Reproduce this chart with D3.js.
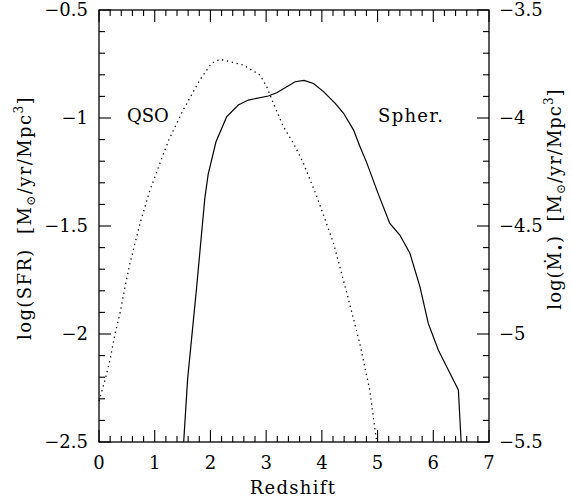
<!DOCTYPE html>
<html>
<head>
<meta charset="utf-8">
<script src="https://cdn.jsdelivr.net/npm/d3@7"></script>
<style>
  html, body { margin: 0; padding: 0; background: #fff; }
  svg { display: block; }
</style>
</head>
<body>
<svg id="chart" width="572" height="499"></svg>
<script>
// Spheroid star-formation history: redshift vs log(SFR)
const spherZ = [1.52, 1.59, 1.75, 1.90, 1.96, 2.10, 2.29, 2.50, 2.68, 3.04, 3.19, 3.52, 3.68, 3.85, 4.03, 4.24, 4.39, 4.57, 4.68, 4.81, 5.01, 5.22, 5.40, 5.58, 5.76, 5.91, 6.09, 6.27, 6.45, 6.50];
const spherLogSFR = [-2.5, -2.21, -1.79, -1.37, -1.26, -1.11, -0.995, -0.94, -0.917, -0.898, -0.883, -0.832, -0.826, -0.840, -0.878, -0.932, -0.978, -1.056, -1.13, -1.21, -1.35, -1.488, -1.542, -1.626, -1.781, -1.951, -2.074, -2.167, -2.259, -2.5];

// QSO accretion history: redshift vs log(SFR)-scaled density
const qsoZ = [0.0, 0.108, 0.197, 0.287, 0.377, 0.467, 0.556, 0.646, 0.736, 0.826, 0.915, 1.005, 1.125, 1.256, 1.453, 1.51, 1.81, 2.02, 2.17, 2.35, 2.59, 2.89, 3.01, 3.13, 3.31, 3.49, 3.67, 3.91, 4.21, 4.45, 4.68, 4.86, 4.97, 4.99];
const qsoLogSFR = [-2.31, -2.213, -2.12, -2.0, -1.904, -1.781, -1.673, -1.58, -1.488, -1.41, -1.333, -1.272, -1.187, -1.10, -0.994, -0.963, -0.824, -0.747, -0.728, -0.739, -0.755, -0.801, -0.855, -0.932, -1.04, -1.117, -1.21, -1.364, -1.58, -1.812, -2.043, -2.259, -2.475, -2.5];

// Axis ticks
const xMajorTicks = [0, 1, 2, 3, 4, 5, 6, 7];
const xMinorTicks = d3.range(0, 7.0001, 0.2);
const yLeftMajorTicks = [-2.5, -2, -1.5, -1, -0.5];
const yRightMajorTicks = [-5.5, -5, -4.5, -4, -3.5];
const yMinorTicks = d3.range(-2.5, -0.4999, 0.1);

const seriesLabels = ["QSO", "Spher."];

const FONT = "DejaVu Serif";
const svg = d3.select("#chart");
const L = 99, R = 489, T = 10, B = 442;

const x = d3.scaleLinear().domain([0, 7]).range([L, R]);
const yL = d3.scaleLinear().domain([-2.5, -0.5]).range([B, T]);
const yR = d3.scaleLinear().domain([-5.5, -3.5]).range([B, T]);

const fmt = v => d3.format("")(v).replace("-", "\u2212");

const g = svg.append("g").attr("font-family", FONT).attr("fill", "#000");

// frame
g.append("rect").attr("x", L).attr("y", T).attr("width", R - L).attr("height", B - T)
  .attr("fill", "none").attr("stroke", "#000").attr("stroke-width", 1.3);

const majLen = 12, minLen = 6;
const tickG = g.append("g").attr("stroke", "#000").attr("stroke-width", 1.1);

// x ticks (bottom and top, inward)
xMinorTicks.forEach(v => {
  const isMaj = Math.abs(v - Math.round(v)) < 1e-6;
  const len = isMaj ? majLen : minLen;
  const px = x(v);
  tickG.append("line").attr("x1", px).attr("x2", px).attr("y1", B).attr("y2", B - len);
  tickG.append("line").attr("x1", px).attr("x2", px).attr("y1", T).attr("y2", T + len);
});

// y ticks (left and right, inward)
yMinorTicks.forEach(v => {
  const isMaj = Math.abs(v * 2 - Math.round(v * 2)) < 1e-6;
  const len = isMaj ? majLen : minLen;
  const py = yL(v);
  tickG.append("line").attr("x1", L).attr("x2", L + len).attr("y1", py).attr("y2", py);
  tickG.append("line").attr("x1", R).attr("x2", R - len).attr("y1", py).attr("y2", py);
});

const fs = 18;
const ls = 1.3;
// bottom labels
g.selectAll(".xl").data(xMajorTicks).enter().append("text")
  .attr("x", d => x(d)).attr("y", 469).attr("text-anchor", "middle")
  .attr("font-size", fs).text(d => d);

// left labels
g.selectAll(".yl").data(yLeftMajorTicks).enter().append("text")
  .attr("x", 88).attr("y", d => yL(d) + 6).attr("text-anchor", "end")
  .attr("font-size", fs).text(fmt);

// right labels
g.selectAll(".yr").data(yRightMajorTicks).enter().append("text")
  .attr("x", 499).attr("y", d => yR(d) + 6).attr("text-anchor", "start")
  .attr("font-size", fs).text(fmt);

// curves
const line = d3.line().x(d => x(d[0])).y(d => yL(d[1]));
g.append("path").datum(d3.zip(spherZ, spherLogSFR)).attr("d", line)
  .attr("fill", "none").attr("stroke", "#000").attr("stroke-width", 1.2);
g.append("path").datum(d3.zip(qsoZ, qsoLogSFR)).attr("d", line)
  .attr("fill", "none").attr("stroke", "#000").attr("stroke-width", 1.3)
  .attr("stroke-dasharray", "1.3 3.7");

// series labels
g.append("text").attr("x", 127).attr("y", 122).attr("font-size", fs).text(seriesLabels[0]);
g.append("text").attr("x", 378).attr("y", 122).attr("font-size", fs).attr("letter-spacing", ls).text(seriesLabels[1]);

// x title
g.append("text").attr("x", 293).attr("y", 494).attr("text-anchor", "middle")
  .attr("font-size", fs).attr("letter-spacing", ls).text("Redshift");

// left y title
const lt = g.append("text").attr("transform", "translate(31,218) rotate(-90)")
  .attr("text-anchor", "middle").attr("font-size", fs).attr("letter-spacing", 1.4);
lt.append("tspan").text("log(SFR)\u00a0\u00a0[M");
lt.append("tspan").attr("font-size", 12).attr("dy", 4).text("\u2299");
lt.append("tspan").attr("dy", -4).text("/yr/Mpc");
lt.append("tspan").attr("font-size", 12).attr("dy", -8).text("3");
lt.append("tspan").attr("dy", 8).text("]");

// right y title
const rt = g.append("text").attr("transform", "translate(561,199) rotate(-90)")
  .attr("text-anchor", "middle").attr("font-size", fs).attr("letter-spacing", 1.0);
rt.append("tspan").text("log(\u1E40");
rt.append("tspan").attr("font-size", 12).attr("dy", 4).text("\u2022");
rt.append("tspan").attr("dy", -4).text(")\u00a0\u00a0[M");
rt.append("tspan").attr("font-size", 12).attr("dy", 4).text("\u2299");
rt.append("tspan").attr("dy", -4).text("/yr/Mpc");
rt.append("tspan").attr("font-size", 12).attr("dy", -8).text("3");
rt.append("tspan").attr("dy", 8).text("]");
</script>
</body>
</html>
